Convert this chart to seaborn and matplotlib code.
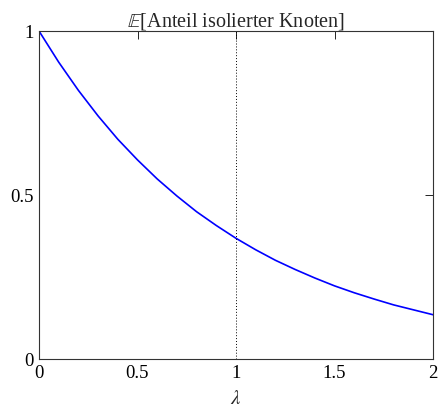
import matplotlib
matplotlib.use("Agg")
import matplotlib.pyplot as plt
import seaborn as sns
import pandas as pd

lam = [0.0, 0.1, 0.2, 0.3, 0.4, 0.5, 0.6, 0.7, 0.8, 0.9, 1.0,
       1.1, 1.2, 1.3, 1.4, 1.5, 1.6, 1.7, 1.8, 1.9, 2.0]
frac = [1.000, 0.905, 0.819, 0.741, 0.670, 0.607, 0.549, 0.497, 0.449, 0.407, 0.368,
        0.333, 0.301, 0.273, 0.247, 0.223, 0.202, 0.183, 0.165, 0.150, 0.135]
xticks = [0, 0.5, 1, 1.5, 2]
xticklabels = ["0", "0.5", "1", "1.5", "2"]
yticks = [0, 0.5, 1]
yticklabels = ["0", "0.5", "1"]

sns.set_style("white")
plt.rcParams["font.family"] = ["Liberation Serif", "DejaVu Serif"]
plt.rcParams["mathtext.fontset"] = "stix"

df = pd.DataFrame({"lam": lam, "frac": frac})

fig = plt.figure(figsize=(4.45, 4.12), dpi=100)
ax = fig.add_axes([39/445, (412-359)/412, (433-39)/445, (359-31)/412])
sns.lineplot(data=df, x="lam", y="frac", ax=ax, color="#0000ff", linewidth=1.2)
ax.axvline(1.0, color="black", linestyle=(0, (1, 2)), linewidth=0.7)
ax.set_xlim(0, 2)
ax.set_ylim(0, 1)
ax.set_xticks(xticks)
ax.set_xticklabels(xticklabels)
ax.set_yticks(yticks)
ax.set_yticklabels(yticklabels)
ax.tick_params(direction="in", top=True, right=True, length=5.5, width=0.6,
               labelsize=13.5, colors="black", pad=4)
for s in ax.spines.values():
    s.set_color("#333333")
    s.set_linewidth(0.8)
ax.set_xlabel(r"$\lambda$", fontsize=15, labelpad=6)
ax.set_ylabel("")
ax.set_title(r"$\mathbb{E}$[Anteil isolierter Knoten]", fontsize=14.5, pad=3)
fig.savefig("out.png", dpi=100)
